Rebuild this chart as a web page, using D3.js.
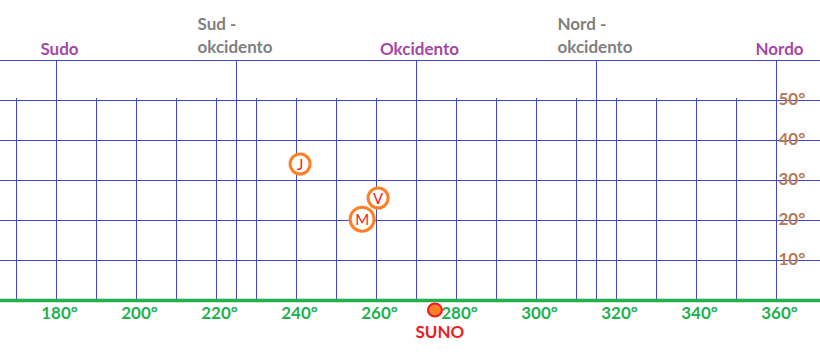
<!DOCTYPE html>
<html>
<head>
<meta charset="utf-8">
<script src="https://cdn.jsdelivr.net/npm/d3@7"></script>
<style>
  body { margin: 0; background: #fff; }
  text { font-family: Lato, "Open Sans", sans-serif; font-weight: bold; }
</style>
</head>
<body>
<svg id="chart" width="820" height="360"></svg>
<script>
// azimuth / altitude data
var azTicks = [180, 200, 220, 240, 260, 280, 300, 320, 340, 360];
var altTicks = [10, 20, 30, 40, 50];
var gridAz = [170, 190, 200, 210, 220, 230, 240, 250, 260, 280, 290, 300, 310, 320, 330, 340, 350];
var cardinals = [180, 225, 270, 315, 360];
var cardinalNames = ["Sudo", "Sud -|okcidento", "Okcidento", "Nord -|okcidento", "Nordo"];
var planetNames = ["J", "V", "M"];
var planetAz = [240.9, 260.4, 256.4];
var planetAlt = [34, 25.5, 20.2];
var planetR = [10, 10, 12];
var sunAz = [274.6];
var sunAlt = [-2.5];

var svg = d3.select("#chart");
var x = d3.scaleLinear().domain([180, 360]).range([56.5, 776.5]);
var y = d3.scaleLinear().domain([0, 60]).range([300, 60]);

var blue = "#3f48cc", green = "#22b14c", purple = "#a349a4",
    brown = "#b97a57", grey = "#7f7f7f", orange = "#ff7f27", red = "#ed1c24";

// horizontal grid (full width)
svg.selectAll(".hgrid").data(altTicks.concat([60])).enter().append("line")
    .attr("x1", 0).attr("x2", 820)
    .attr("y1", function(d) { return y(d) + 0.5; })
    .attr("y2", function(d) { return y(d) + 0.5; })
    .style("stroke", blue).style("stroke-width", 1);

// minor vertical grid
svg.selectAll(".vgrid").data(gridAz).enter().append("line")
    .attr("x1", function(d) { return x(d); }).attr("x2", function(d) { return x(d); })
    .attr("y1", y(50.5)).attr("y2", y(0))
    .style("stroke", blue).style("stroke-width", 1);

// cardinal vertical lines
svg.selectAll(".cgrid").data(cardinals).enter().append("line")
    .attr("x1", function(d) { return x(d); }).attr("x2", function(d) { return x(d); })
    .attr("y1", y(60)).attr("y2", y(0))
    .style("stroke", blue).style("stroke-width", 1);

// horizon
svg.append("line")
    .attr("x1", 0).attr("x2", 820).attr("y1", y(0) + 0.5).attr("y2", y(0) + 0.5)
    .style("stroke", green).style("stroke-width", 3.5);

// azimuth labels
svg.selectAll(".azlab").data(azTicks).enter().append("text")
    .attr("x", function(d) { return x(d) + 3; })
    .attr("y", y(0) + 19)
    .attr("text-anchor", "middle")
    .style("font-size", "17px").style("fill", green)
    .text(function(d) { return d + "°"; });

// altitude labels
svg.selectAll(".altlab").data(altTicks).enter().append("text")
    .attr("x", x(360) + 2)
    .attr("y", function(d) { return y(d) + 5; })
    .style("font-size", "17px").style("fill", brown)
    .text(function(d) { return d + "°"; });

// cardinal names
cardinals.forEach(function(az, i) {
    var parts = cardinalNames[i].split("|");
    if (parts.length == 1) {
        svg.append("text")
            .attr("x", x(az) + 3).attr("y", 55)
            .attr("text-anchor", "middle")
            .style("font-size", "17px").style("fill", purple)
            .text(parts[0]);
    } else {
        var t = svg.append("text")
            .attr("x", x(az) - 39).attr("y", 30)
            .style("font-size", "17px").style("fill", grey);
        t.append("tspan").attr("x", x(az) - 39).attr("y", 30).text(parts[0]);
        t.append("tspan").attr("x", x(az) - 39).attr("y", 53).text(parts[1]);
    }
});

// planets
var planets = svg.selectAll(".planet").data(planetNames).enter().append("g")
    .attr("transform", function(d, i) { return "translate(" + x(planetAz[i]) + "," + y(planetAlt[i]) + ")"; });
planets.append("circle")
    .attr("r", function(d, i) { return planetR[i]; })
    .style("fill", "#fff").style("stroke", orange).style("stroke-width", 3);
planets.append("text")
    .attr("text-anchor", "middle").attr("y", 5.5)
    .style("font-size", "15px").style("fill", red).style("font-weight", "normal")
    .text(function(d) { return d; });

// sun
svg.selectAll(".sun").data(sunAz).enter().append("ellipse")
    .attr("cx", function(d) { return x(d); })
    .attr("cy", function(d, i) { return y(sunAlt[i]); })
    .attr("rx", 7).attr("ry", 6.5)
    .style("fill", orange).style("stroke", red).style("stroke-width", 2);
svg.append("text")
    .attr("x", x(sunAz[0]) + 5).attr("y", 338)
    .attr("text-anchor", "middle")
    .style("font-size", "17px").style("fill", red)
    .text("SUNO");
</script>
</body>
</html>
